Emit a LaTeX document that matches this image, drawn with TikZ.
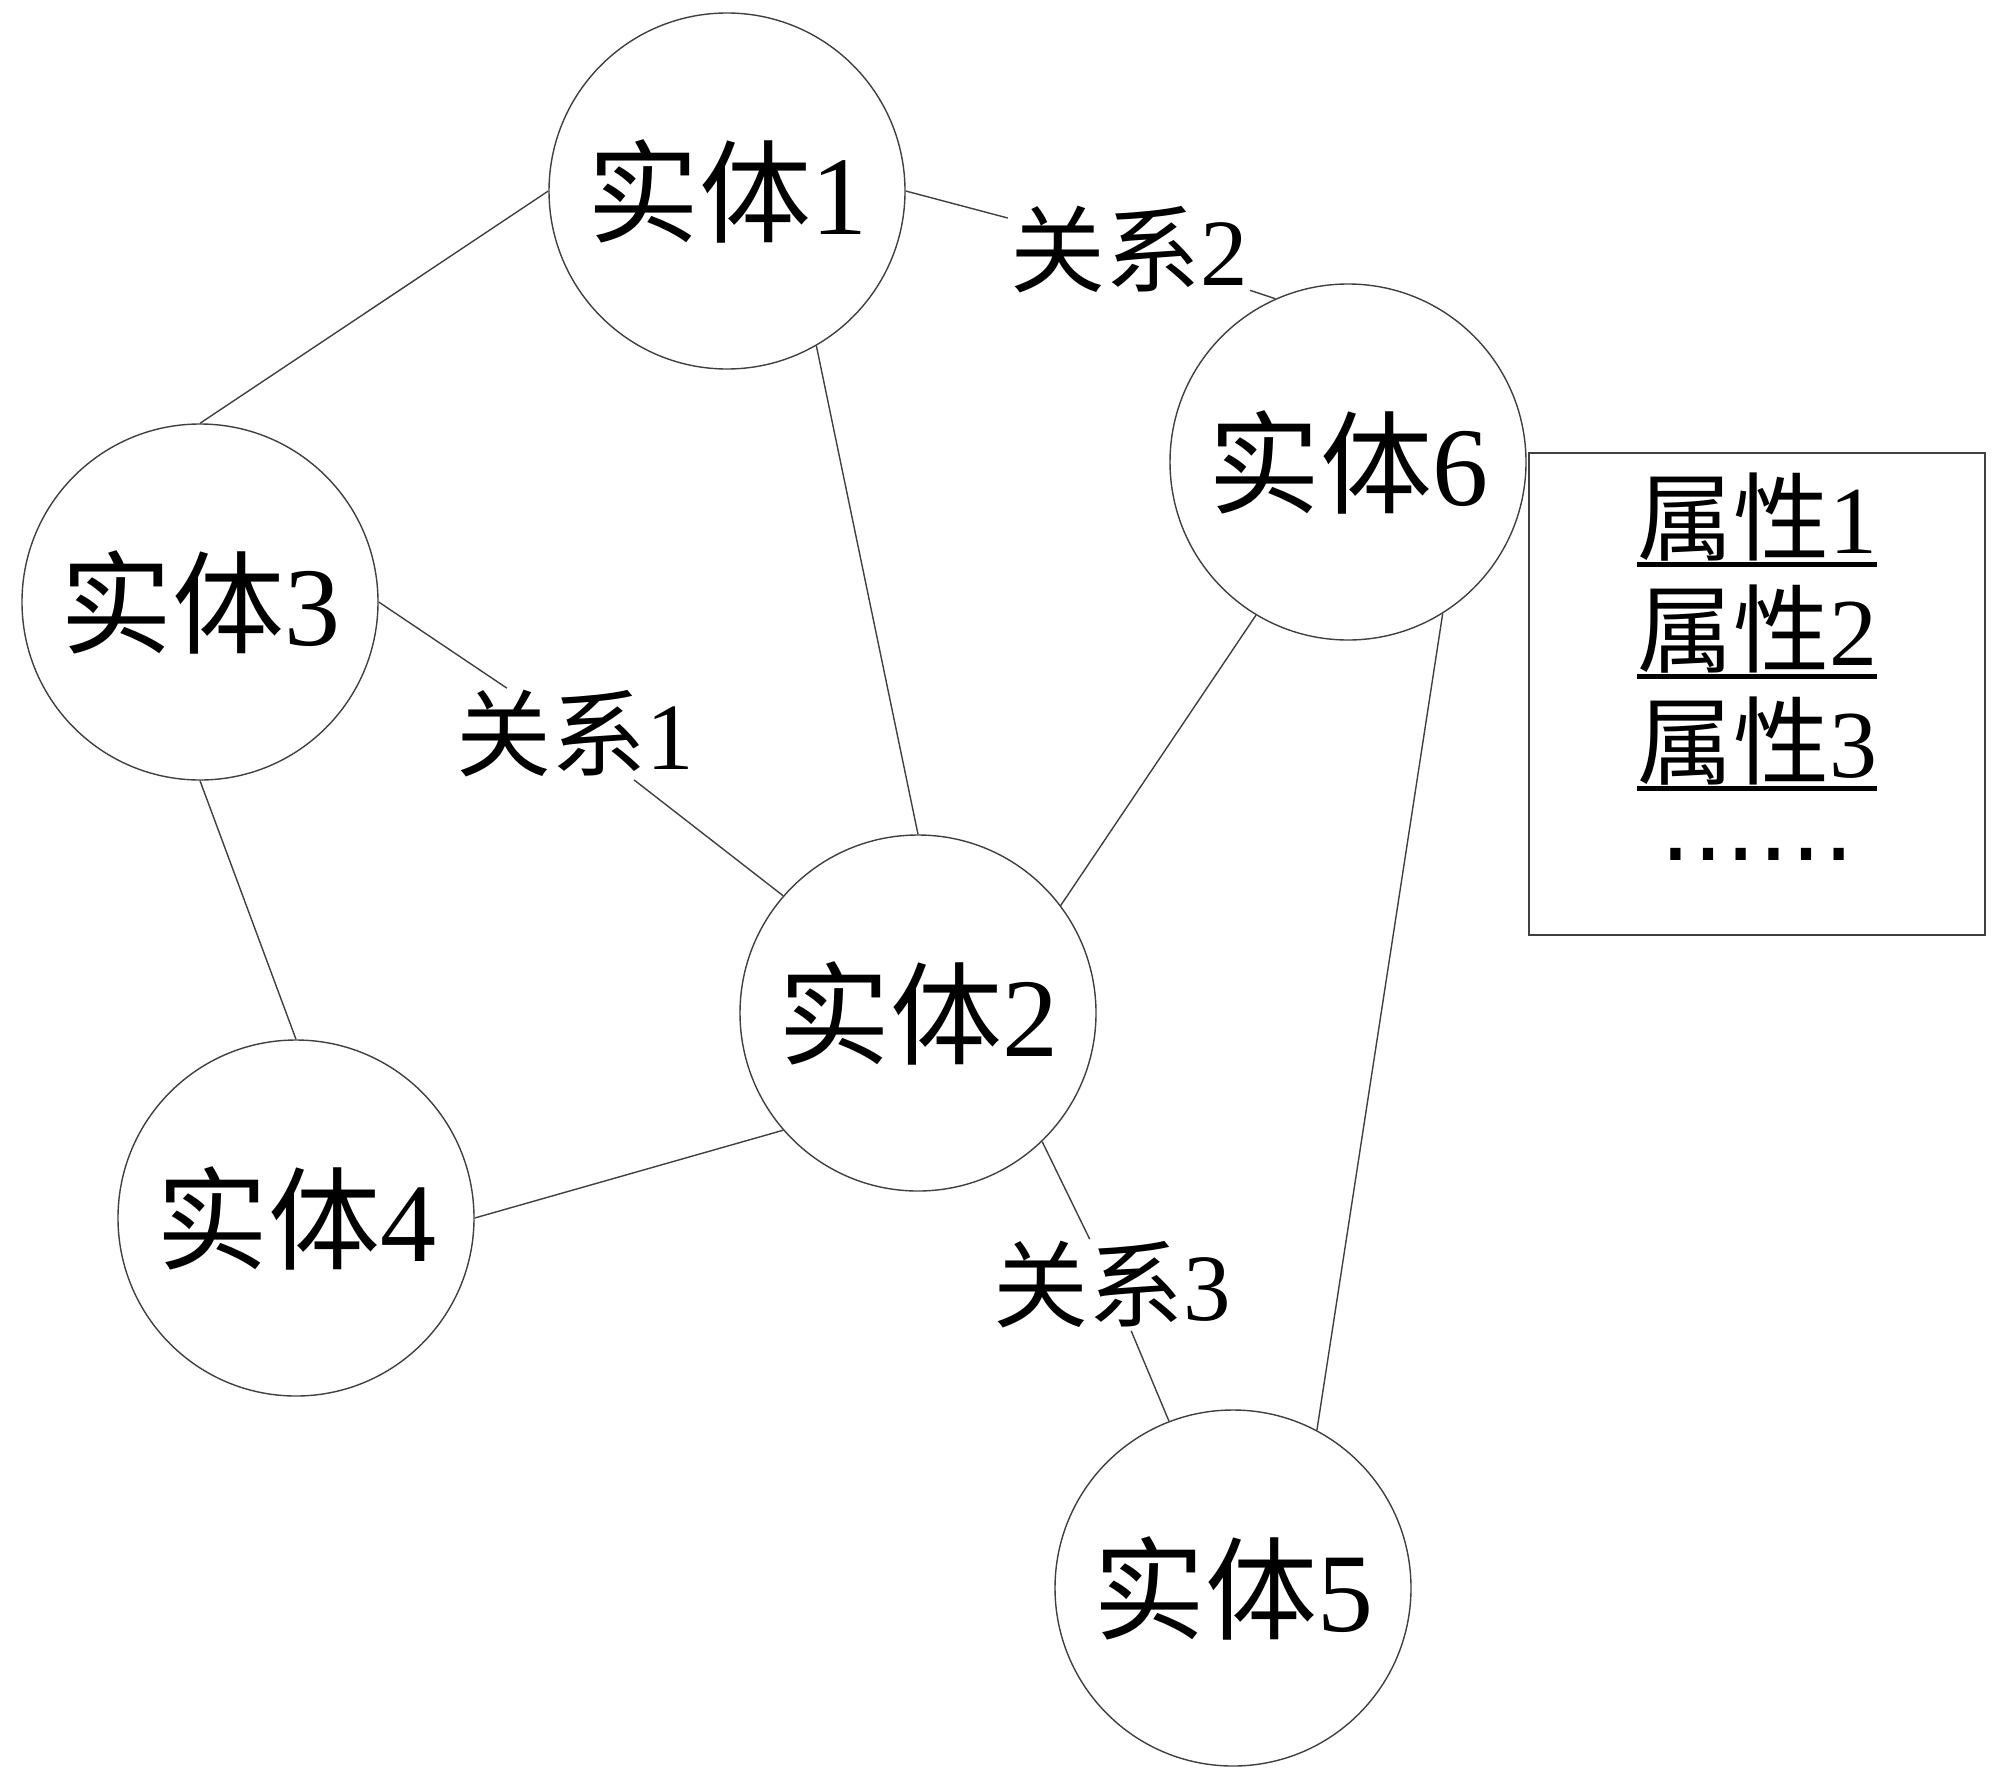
\documentclass[tikz,border=0pt]{standalone}
\usepackage{fontspec}
\setmainfont{Liberation Serif}
\newfontfamily\cjk{Noto Sans CJK SC}
\newfontfamily\dejavu{DejaVu Sans}
\newcommand\myul[1]{\setbox0\hbox{#1}\rlap{\rule[-7pt]{\wd0}{2.6pt}}\box0}
\newcommand\entname[1]{\raisebox{3pt}{{\cjk 实体}#1}}
\begin{document}
\begin{tikzpicture}[x=0.5pt,y=-0.5pt,
  ent/.style={circle,draw=black!75,line width=0.7pt,minimum size=178pt,inner sep=0pt,font=\fontsize{56pt}{60pt}\selectfont},
  rel/.style={inner sep=1pt,font=\fontsize{47.5pt}{50pt}\selectfont},
  link/.style={draw=black!75,line width=0.7pt},
  attrbox/.style={rectangle,draw=black!75,line width=0.7pt,minimum width=228pt,minimum height=241pt,inner sep=0pt},
  attr/.style={inner sep=0pt,text height=38pt,text depth=8pt,font=\fontsize{48pt}{52pt}\selectfont}]
\useasboundingbox (0,0) rectangle (2000,1776);
\fill[white] (0,0) rectangle (2000,1776);
\node[ent] (e1) at (727,191) {\entname{1}};
\node[ent] (e6) at (1348,462) {\entname{6}};
\node[ent] (e3) at (200,602) {\entname{3}};
\node[ent] (e2) at (918,1013) {\entname{2}};
\node[ent] (e4) at (296,1218) {\entname{4}};
\node[ent] (e5) at (1233,1588) {\entname{5}};
\node[rel] (r2) at (1129,250) {{\cjk 关系}2};
\node[rel] (r1) at (575,734) {{\cjk 关系}1};
\node[rel] (r3) at (1112,1285) {{\cjk 关系}3};
\node[attrbox] (box) at (1757,694) {};
\node[attr] (a1) at (1757,523) {\myul{{\cjk 属性}1}};
\node[attr] (a2) at (1757,635) {\myul{{\cjk 属性}2}};
\node[attr] (a3) at (1757,747) {\myul{{\cjk 属性}3}};
\node[inner sep=0pt,text height=8pt,text depth=0pt,font=\fontsize{49pt}{52pt}\selectfont\dejavu] (dots) at (1757,852) {……};
\draw[link] (e1.west) -- (e3.north);
\draw[link] (e1.east) -- (r2) -- (e6.114);
\draw[link] (e1.-60) -- (e2.north);
\draw[link] (e3.east) -- (r1) -- (e2.139);
\draw[link] (e3.south) -- (e4.north);
\draw[link] (e4.east) -- (e2.-139);
\draw[link] (e2.37) -- (e6.-121);
\draw[link] (e2.-46) -- (r3) -- (e5.111);
\draw[link] (e6.-58) -- (e5.62);
\end{tikzpicture}
\end{document}
